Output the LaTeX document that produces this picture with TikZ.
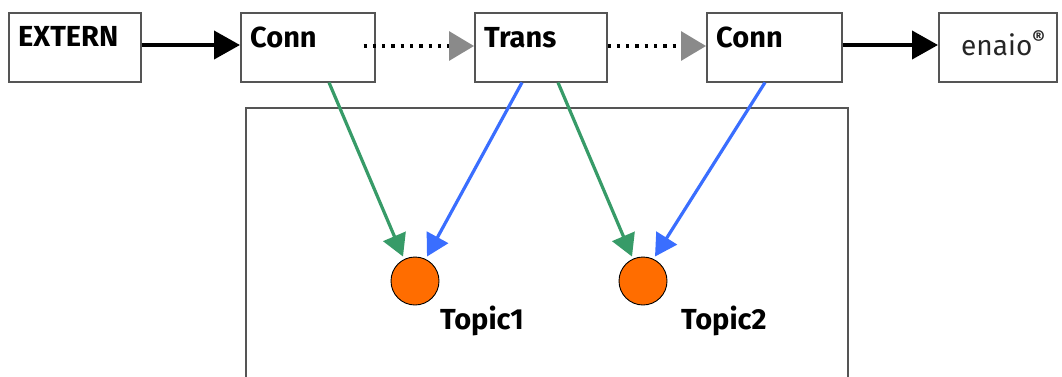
\documentclass[tikz,border=0pt]{standalone}
\usepackage{fontspec}
\setmainfont{Fira Sans}
\usetikzlibrary{arrows.meta,calc}
\definecolor{boxline}{HTML}{555555}
\definecolor{grn}{HTML}{379B68}
\definecolor{blu}{HTML}{3A6EFF}
\definecolor{org}{HTML}{FF6D00}
\definecolor{gryhead}{HTML}{8A8A8A}
\tikzset{
  x=1pt, y=-1pt,
  boxnode/.style={draw=boxline, line width=1.5pt, inner sep=0, minimum height=69pt},
  lbl/.style={anchor=base west, inner sep=0, font=\fontsize{29}{32}\selectfont\bfseries},
  blackarrow/.style={line width=4pt, -{Triangle[length=26pt,width=28pt]}},
  dotarrow/.style={line width=3.2pt, dash pattern=on 3.2pt off 6.1pt, -{Triangle[length=25pt,width=29pt,color=gryhead]}},
  grnarrow/.style={draw=grn, line width=3.2pt, -{Triangle[length=22pt,width=24pt]}},
  bluarrow/.style={draw=blu, line width=3.2pt, -{Triangle[length=22pt,width=24pt]}},
  topic/.style={circle, draw=black, fill=org, line width=0.9pt, minimum size=48pt, inner sep=0}
}
\begin{document}
\begin{tikzpicture}
\useasboundingbox (0,0) rectangle (1062,376);
% boxes
\node[boxnode, minimum width=132pt, anchor=north west] (ext) at (8,12) {};
\node[boxnode, minimum width=134pt, anchor=north west] (conn1) at (240,12) {};
\node[boxnode, minimum width=132pt, anchor=north west] (trans) at (474,12) {};
\node[boxnode, minimum width=135pt, anchor=north west] (conn2) at (706,12) {};
\node[boxnode, minimum width=118pt, anchor=north west] (enaio) at (938,12) {};
% labels
\node[lbl] (extT) at (18,46) {EXTERN};
\node[lbl] (conn1T) at (250,47) {Conn};
\node[lbl] (transT) at (484,47) {Trans};
\node[lbl] (conn2T) at (716,47) {Conn};
\node[anchor=base west, inner sep=0, font=\fontsize{28}{30}\selectfont, text=black!85] (enaioT) at (961,55) {enaio\textsuperscript{\bfseries ®}};
% container
\draw[draw=boxline, line width=1.5pt] (246,378) -- (246,108) -- (848,108) -- (848,378);
% topics
\node[topic] (t1) at (415,281) {};
\node[topic] (t2) at (643,281) {};
\node[lbl, anchor=base west] (t1T) at (440,329) {Topic1};
\node[lbl, anchor=base west] (t2T) at (681,329) {Topic2};
% horizontal connectors
\draw[blackarrow] (ext.east |- 0,45) -- (conn1.west |- 0,45);
\draw[blackarrow] (conn2.east |- 0,45) -- (enaio.west |- 0,45);
\draw[dotarrow] ([xshift=-12pt]conn1.east |- 0,46) -- (trans.west |- 0,46);
\draw[dotarrow] (trans.east |- 0,46) -- (conn2.west |- 0,46);
% diagonal connectors
\draw[grnarrow] ([xshift=89pt]conn1.south west) -- ([xshift=-12pt,yshift=0pt]t1.north);
\draw[bluarrow] ([xshift=48pt]trans.south west) -- ([xshift=12pt,yshift=0pt]t1.north);
\draw[grnarrow] ([xshift=84pt]trans.south west) -- ([xshift=-11pt,yshift=0pt]t2.north);
\draw[bluarrow] ([xshift=59pt]conn2.south west) -- ([xshift=12pt,yshift=0pt]t2.north);
\end{tikzpicture}
\end{document}
